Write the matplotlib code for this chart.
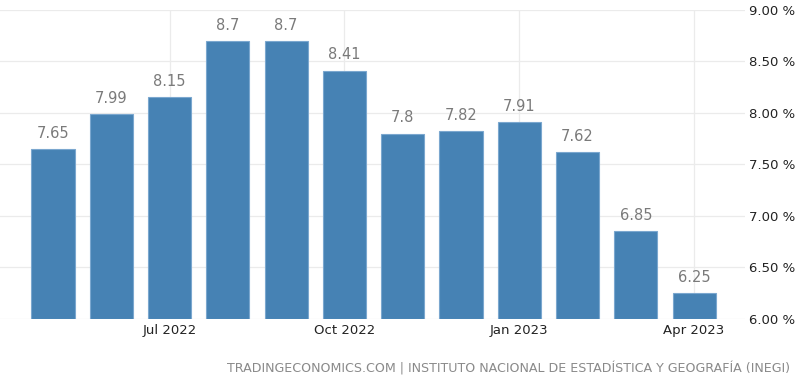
import matplotlib.pyplot as plt
import numpy as np

# monthly values, May 2022 .. Apr 2023
months = ['May 2022', 'Jun 2022', 'Jul 2022', 'Aug 2022', 'Sep 2022', 'Oct 2022',
          'Nov 2022', 'Dec 2022', 'Jan 2023', 'Feb 2023', 'Mar 2023', 'Apr 2023']
values = [7.65, 7.99, 8.15, 8.7, 8.7, 8.41, 7.8, 7.82, 7.91, 7.62, 6.85, 6.25]
value_labels = ['7.65', '7.99', '8.15', '8.7', '8.7', '8.41', '7.8', '7.82', '7.91', '7.62', '6.85', '6.25']
tick_months = ['Jul 2022', 'Oct 2022', 'Jan 2023', 'Apr 2023']
yticks = [6.0, 6.5, 7.0, 7.5, 8.0, 8.5, 9.0]

fig = plt.figure(figsize=(8, 3.81), dpi=100)
ax = fig.add_axes([0.0, 0.163, 0.931, 0.811])

x = np.arange(len(months))
ax.bar(x, [v - 6.0 for v in values], bottom=6.0, width=0.74,
       color='#4682b4', edgecolor='#7ba7cf', linewidth=0.8, zorder=3)

for xi, v, lab in zip(x, values, value_labels):
    ax.text(xi, v + 0.08, lab, ha='center', va='bottom', fontsize=10.5, color='#7a7a7a')

ax.set_ylim(6.0, 9.0)
ax.set_xlim(-0.91, 11.87)
ax.set_yticks(yticks)
ax.set_yticklabels(['%.2f %%' % t for t in yticks], fontsize=9.5, color='#222222')
ax.yaxis.tick_right()
ax.set_xticks([months.index(m) for m in tick_months])
ax.set_xticklabels(tick_months, fontsize=9.5, color='#222222')
ax.tick_params(axis='x', length=0, pad=4)
ax.tick_params(axis='y', length=0, pad=3)

ax.grid(True, color='#ebebeb', linewidth=0.9, zorder=0)
for s in ax.spines.values():
    s.set_visible(False)

fig.text(0.988, 0.034, 'TRADINGECONOMICS.COM | INSTITUTO NACIONAL DE ESTADÍSTICA Y GEOGRAFÍA (INEGI)',
         ha='right', va='center', fontsize=9.1, color='#8a8a8a')

fig.savefig('out.png', dpi=100)
